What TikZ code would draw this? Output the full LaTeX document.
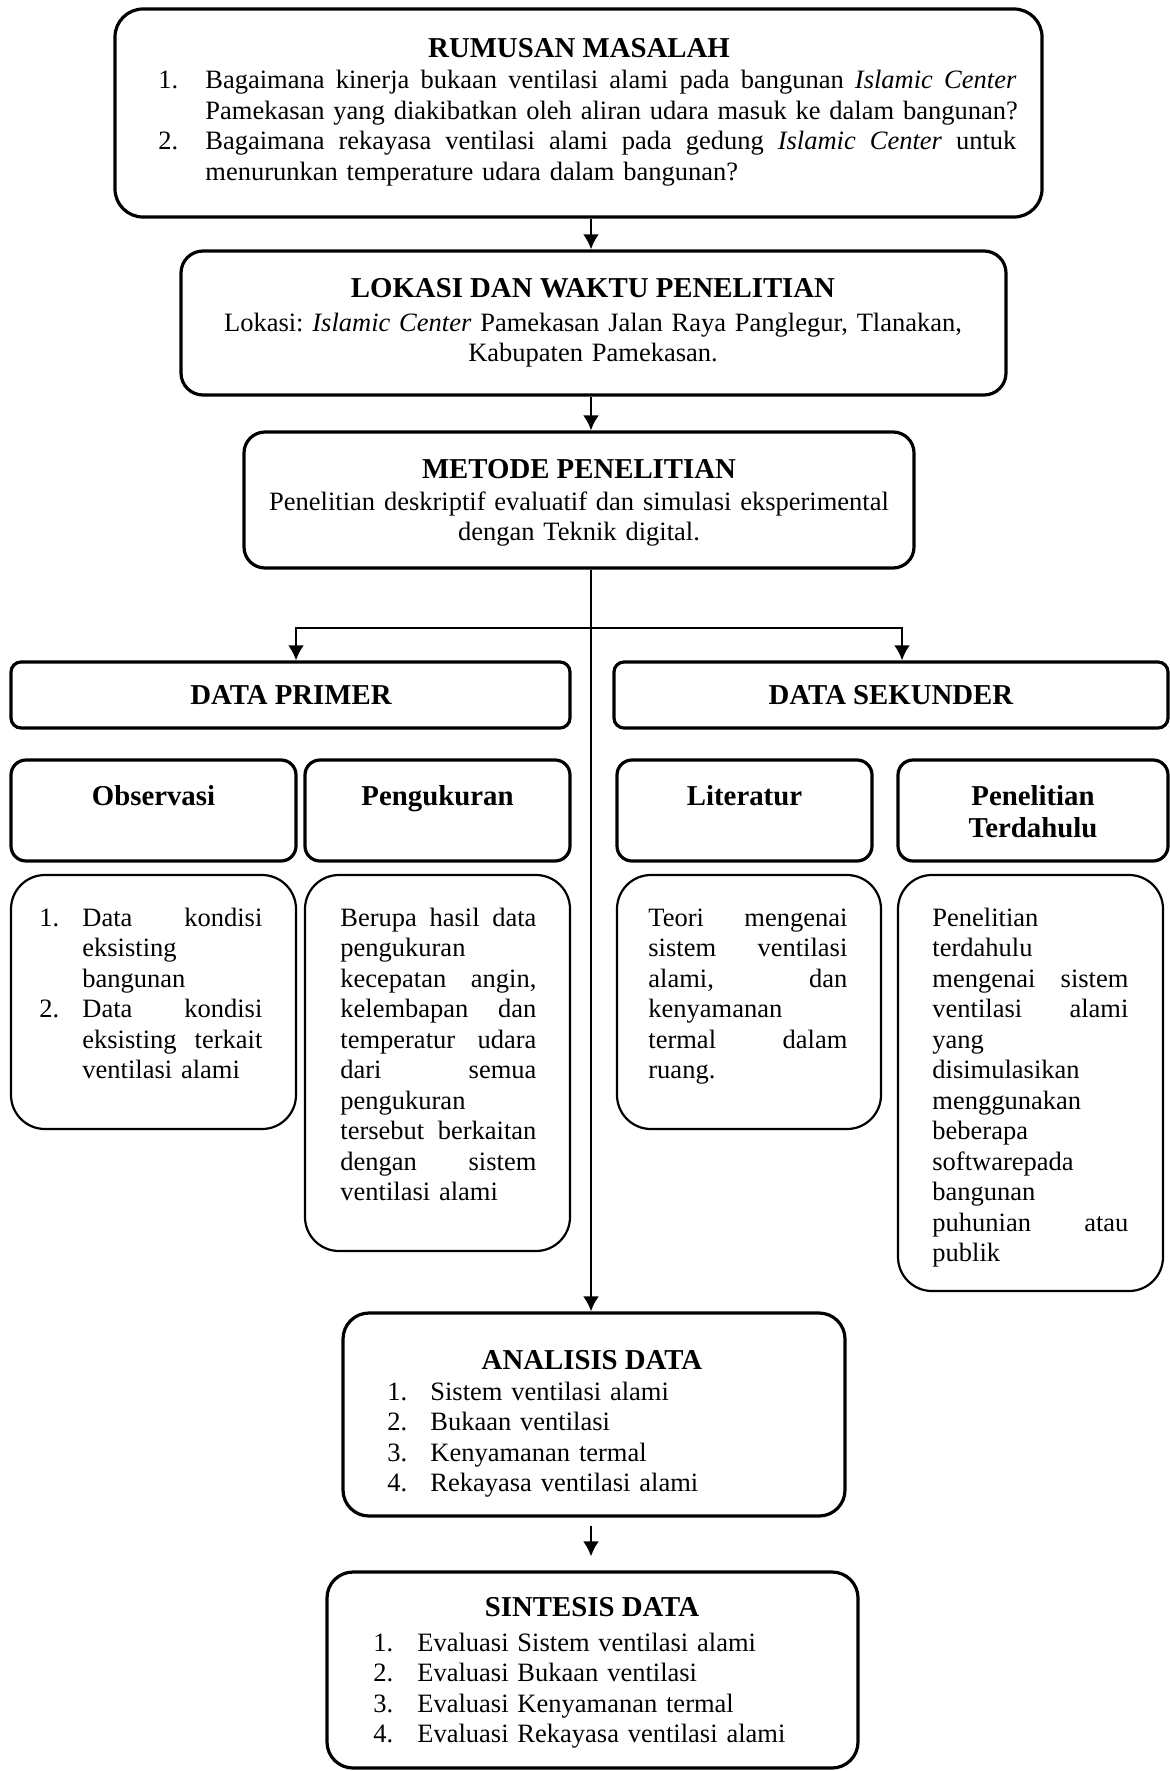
\documentclass[tikz,border=0pt]{standalone}
\usepackage{fontspec}
\setmainfont{Liberation Serif}
\usetikzlibrary{arrows.meta,fit}
\newcommand{\bodyf}{\fontsize{13.25pt}{15.25pt}\selectfont\frenchspacing}
\newcommand{\titlef}{\fontsize{14.4pt}{16pt}\selectfont\bfseries}
\newcommand{\jw}{100pt}
\newcommand{\jl}[1]{\leavevmode\hbox to \jw{\spaceskip=0.25em plus 1fil\relax #1}\\}
\newcommand{\numA}[1]{\leavevmode\llap{\makebox[21.5pt][l]{#1}}}
\newcommand{\numB}[1]{\leavevmode\llap{\makebox[23.5pt][l]{#1}}}
\newcommand{\numC}[1]{\leavevmode\llap{\makebox[22pt][l]{#1}}}
\tikzset{
  rbox/.style={draw, line width=1.6pt, rounded corners=#1, inner sep=0pt},
  cbox/.style={draw, line width=1.1pt, rounded corners=#1, inner sep=0pt},
  ttl/.style={font=\titlef, anchor=base, inner sep=0pt},
  txt/.style={font=\bodyf, anchor=base west, inner sep=0pt, align=left},
  ctxt/.style={font=\bodyf, anchor=base, inner sep=0pt, align=center},
  arr/.style={-{Latex[length=7.5pt,width=8pt]}, line width=1.35pt},
}
\begin{document}
\frenchspacing
\begin{tikzpicture}[x=0.5pt,y=-0.5pt]
\useasboundingbox (0,0) rectangle (1170,1771);
% boxes
\node[rbox=14pt, fit={(115,9)(1042,217)}] (rumusan) {};
\node[rbox=11pt, fit={(181,251)(1006,395)}] (lokasi) {};
\node[rbox=10.5pt, fit={(244,432)(914,568)}] (metode) {};
\node[rbox=5pt, fit={(11,662)(570,728)}] (primer) {};
\node[rbox=5pt, fit={(614,662)(1168,728)}] (sekunder) {};
\node[rbox=7.5pt, fit={(11,760)(296,861)}] (observasi) {};
\node[rbox=7.5pt, fit={(305,760)(570,861)}] (pengukuran) {};
\node[rbox=7.5pt, fit={(617,760)(872,861)}] (literatur) {};
\node[rbox=7.5pt, fit={(898,760)(1168,861)}] (terdahulu) {};
\node[cbox=17pt, fit={(11,875)(296,1129)}] (obsC) {};
\node[cbox=17pt, fit={(305,875)(570,1251)}] (pengC) {};
\node[cbox=17pt, fit={(617,875)(881,1129)}] (litC) {};
\node[cbox=17pt, fit={(898,875)(1163,1291)}] (penC) {};
\node[rbox=13pt, fit={(343,1313)(845,1516)}] (analisis) {};
\node[rbox=13pt, fit={(327,1572)(858,1768)}] (sintesis) {};
% texts
\node[ttl] (rumusanT) at (579,58) {RUMUSAN MASALAH};
\node[txt, text width=410pt] (rumusanL) at (205,89) {\renewcommand{\jw}{405.5pt}%
\numB{1.}\jl{Bagaimana kinerja bukaan ventilasi alami pada bangunan \textit{Islamic Center}}
\mbox{Pamekasan yang diakibatkan oleh aliran udara masuk ke dalam bangunan?}\\
\numB{2.}\jl{Bagaimana rekayasa ventilasi alami pada gedung \textit{Islamic Center} untuk}
menurunkan temperature udara dalam bangunan?};
\node[ttl] (lokasiT) at (593,298) {LOKASI DAN WAKTU PENELITIAN};
\node[ctxt, text width=412pt] (lokasiL) at (593,331) {Lokasi: \textit{Islamic Center} Pamekasan Jalan Raya Panglegur, Tlanakan,\\Kabupaten Pamekasan.};
\node[ttl] (metodeT) at (579,478) {METODE PENELITIAN};
\node[ctxt, text width=330pt] (metodeL) at (579,510) {Penelitian deskriptif evaluatif dan simulasi eksperimental\\dengan Teknik digital.};
\node[ttl] (primerT) at (291,704) {DATA PRIMER};
\node[ttl] (sekunderT) at (891,704) {DATA SEKUNDER};
\node[ttl] (observasiT) at (153.5,805) {Observasi};
\node[ttl] (pengukuranT) at (437.5,805) {Pengukuran};
\node[ttl] (literaturT) at (744.5,805) {Literatur};
\node[ttl, text width=130pt, align=center] (terdahuluT) at (1033,805) {Penelitian\\Terdahulu};
\node[txt, text width=95pt] (obsL) at (82,926) {\renewcommand{\jw}{90pt}%
\numA{1.}\jl{Data kondisi}
eksisting\\
bangunan\\
\numA{2.}\jl{Data kondisi}
\jl{eksisting terkait}
ventilasi alami};
\node[txt, text width=100pt] (pengL) at (340,926) {\renewcommand{\jw}{98pt}%
\jl{Berupa hasil data}
pengukuran\\
\jl{kecepatan angin,}
\jl{kelembapan dan}
\jl{temperatur udara}
\jl{dari semua}
pengukuran\\
\jl{tersebut berkaitan}
\jl{dengan sistem}
ventilasi alami};
\node[txt, text width=102pt] (litL) at (648,926) {\renewcommand{\jw}{99.5pt}%
\jl{Teori mengenai}
\jl{sistem ventilasi}
\jl{alami, dan}
kenyamanan\\
\jl{termal dalam}
ruang.};
\node[txt, text width=100pt] (penL) at (932,926) {\renewcommand{\jw}{98pt}%
Penelitian\\
terdahulu\\
\jl{mengenai sistem}
\jl{ventilasi alami}
yang\\
disimulasikan\\
menggunakan\\
beberapa\\
softwarepada\\
bangunan\\
\jl{puhunian atau}
publik};
\node[ttl] (analisisT) at (592,1369) {ANALISIS DATA};
\node[txt, text width=200pt] (analisisL) at (430,1400) {%
\numA{1.}Sistem ventilasi alami\\
\numA{2.}Bukaan ventilasi\\
\numA{3.}Kenyamanan termal\\
\numA{4.}Rekayasa ventilasi alami};
\node[ttl] (sintesisT) at (592,1616) {SINTESIS DATA};
\node[txt, text width=220pt] (sintesisL) at (417,1651) {%
\numC{1.}Evaluasi Sistem ventilasi alami\\
\numC{2.}Evaluasi Bukaan ventilasi\\
\numC{3.}Evaluasi Kenyamanan termal\\
\numC{4.}Evaluasi Rekayasa ventilasi alami};
% connectors
\coordinate (spine) at (591,628);
\coordinate (bl) at (296,628);
\coordinate (br) at (902,628);
\draw[arr] (rumusan.south -| spine) -- (lokasi.north -| spine);
\draw[arr] (lokasi.south -| spine) -- (metode.north -| spine);
\draw[arr] (metode.south -| spine) -- (analisis.north -| spine);
\draw[arr] (spine) -| (bl |- primer.north);
\draw[arr] (spine) -| (br |- sekunder.north);
\draw[arr, shorten <=4pt, shorten >=7pt] (analisis.south -| spine) -- (sintesis.north -| spine);
\end{tikzpicture}
\end{document}
